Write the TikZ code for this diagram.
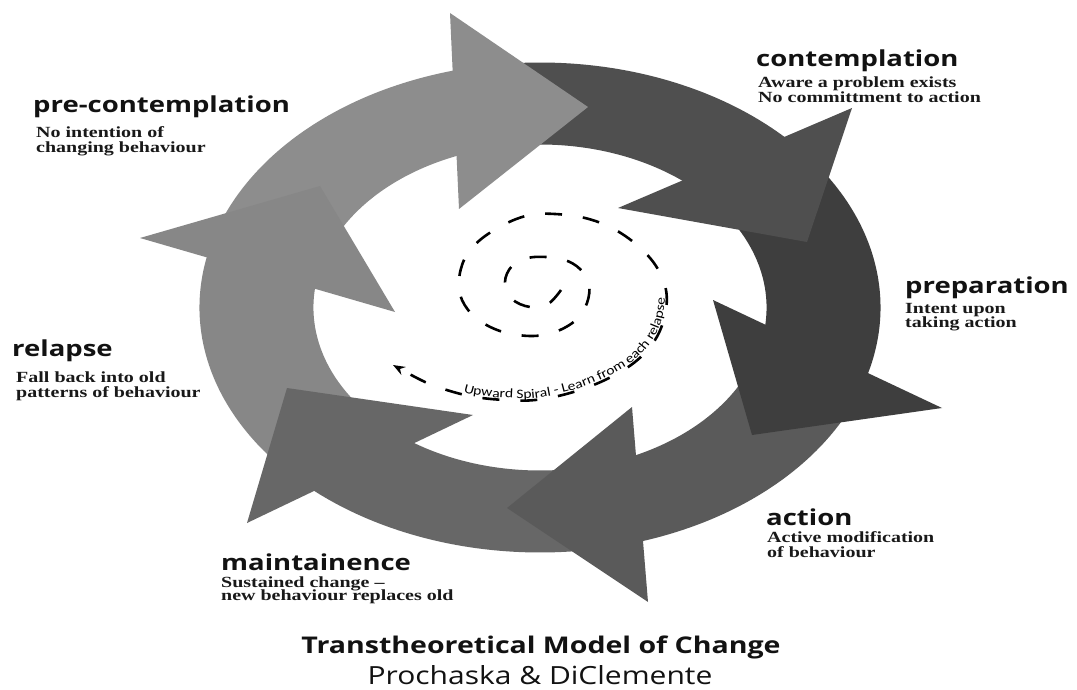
\documentclass[tikz,border=0pt]{standalone}
\usepackage{fontspec}
\usetikzlibrary{arrows.meta,decorations.text}

\newfontfamily\headfont[FakeStretch=1.25]{Open Sans}
\newfontfamily\descfont[FakeStretch=1.29]{Liberation Serif}
\newfontfamily\spiralfont[FakeStretch=1.2]{Carlito}
\newfontfamily\titlefont[FakeStretch=1.24]{Open Sans}
\newfontfamily\authorfont[FakeStretch=1.2]{Open Sans}
\newcommand\spiralstyle{\spiralfont\fontsize{13}{15}\selectfont}

\definecolor{precol}{HTML}{8D8D8D}
\definecolor{concol}{HTML}{4F4F4F}
\definecolor{prepcol}{HTML}{3E3E3E}
\definecolor{actcol}{HTML}{5A5A5A}
\definecolor{maincol}{HTML}{676767}
\definecolor{relcol}{HTML}{878787}

% ring geometry: centre, horizontal stretch, outer and inner radius
\newcommand\ringcx{540}
\newcommand\ringcy{307.5}
\newcommand\ringsx{1.39}
\newcommand\ringro{245}
\newcommand\ringri{163}

% one curved band of the ring, from angle #2 to angle #3
\newcommand\ringshaft[3]{%
  \fill[#1] plot[domain=#2:#3, samples=60, variable=\t]
      ({\ringcx+\ringsx*\ringro*cos(\t)},{\ringcy-\ringro*sin(\t)})
    -- plot[domain=#3:#2, samples=60, variable=\t]
      ({\ringcx+\ringsx*\ringri*cos(\t)},{\ringcy-\ringri*sin(\t)})
    -- cycle;}

\tikzset{
  stagehead/.style={font=\headfont\bfseries\fontsize{22}{26}\selectfont,
    anchor=base west, inner sep=0pt, text=black!93},
  stagetext/.style={font=\descfont\bfseries\fontsize{15.5}{18}\selectfont,
    anchor=base west, inner sep=0pt, text=black!90},
  spiral/.style={line width=2.6pt, dash pattern=on 17pt off 21pt,
    -{Stealth[length=12pt,width=9pt]}},
}

\begin{document}
\begin{tikzpicture}[x=1pt, y=-1pt]
\useasboundingbox (0,0) rectangle (1077,690);
\fill[white] (0,0) rectangle (1077,690);

% ring bands
\ringshaft{precol}{160}{98}
\ringshaft{concol}{98}{38}
\ringshaft{prepcol}{38}{-22}
\ringshaft{actcol}{-22}{-80}
\ringshaft{maincol}{-80}{-138}
\ringshaft{relcol}{222}{160}

% arrow heads, each lying over the start of the following band
\fill[precol]  (450,13)  -- (588,107) -- (459,209) -- cycle;
\fill[concol]  (852,108) -- (807,242) -- (618,208) -- cycle;
\fill[prepcol] (713,300) -- (942,408) -- (752,435) -- cycle;
\fill[actcol]  (632,407) -- (648,602) -- (507,508) -- cycle;
\fill[maincol] (473,415) -- (247,523) -- (287,388) -- cycle;
\fill[relcol]  (140,238) -- (320,186) -- (395,312) -- cycle;

% upward spiral
\draw[spiral] plot[smooth, tension=0.6] coordinates {
  (561,290) (548,304) (530,307) (512,299) (505,282) (512,266) (528,258)
  (546,257) (565,260) (580,269) (589,284) (587,303) (576,320) (555,332)
  (530,336) (500,331) (476,318) (462,300) (459,280) (465,258) (480,240)
  (505,224) (530,215) (555,214) (585,218) (612,228) (637,245) (656,266)
  (666,290) (665,315) (655,340) (635,362) (605,380) (570,393) (535,400)
  (505,400) (475,397) (450,391) (425,382) (393,365)};
\path[decorate, decoration={text along path,
    text={|\spiralstyle|Upward Spiral - Learn from each relapse},
    text align=left, raise=2pt}]
  plot[smooth, tension=0.6] coordinates {
  (463,394) (475,397) (505,400) (535,400) (570,393) (605,380) (635,362)
  (655,340) (665,315) (666,290) (656,266) (637,245) (612,228)};

% stage labels
\node[stagehead] (prehead) at (33,113) {pre-contemplation};
\node[stagetext] (pretext1) at (36,138) {No intention of};
\node[stagetext] (pretext2) at (36,153) {changing behaviour};

\node[stagehead] (conhead) at (756,67) {contemplation};
\node[stagetext] (context1) at (758,88) {Aware a problem exists};
\node[stagetext] (context2) at (758,103) {No committment to action};

\node[stagehead] (prephead) at (905,293) {preparation};
\node[stagetext] (preptext1) at (905,313) {Intent upon};
\node[stagetext] (preptext2) at (905,327) {taking action};

\node[stagehead] (acthead) at (766,525) {action};
\node[stagetext] (acttext1) at (767,542) {Active modification};
\node[stagetext] (acttext2) at (767,557) {of behaviour};

\node[stagehead] (mainhead) at (221,570) {maintainence};
\node[stagetext] (maintext1) at (221,587) {Sustained change –};
\node[stagetext] (maintext2) at (221,600) {new behaviour replaces old};

\node[stagehead] (relhead) at (12,356) {relapse};
\node[stagetext] (reltext1) at (16,382) {Fall back into old};
\node[stagetext] (reltext2) at (16,397) {patterns of behaviour};

% title
\node[font=\titlefont\bfseries\fontsize{23}{27}\selectfont, anchor=base,
  inner sep=0pt, text=black!93] (title) at (541,653)
  {Transtheoretical Model of Change};
\node[font=\authorfont\fontsize{25}{29}\selectfont, anchor=base,
  inner sep=0pt, text=black!93] (authors) at (540,684)
  {Prochaska \& DiClemente};
\end{tikzpicture}
\end{document}
